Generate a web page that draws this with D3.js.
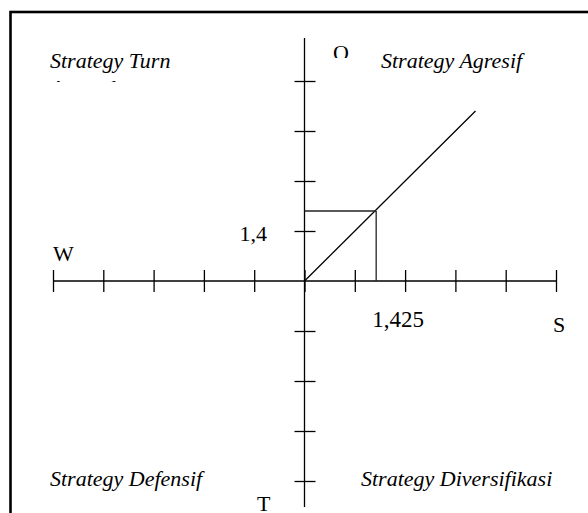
<!DOCTYPE html>
<html>
<head>
<meta charset="utf-8">
<script src="https://cdn.jsdelivr.net/npm/d3@7"></script>
<style>
  body { margin: 0; background: #fff; }
  svg { display: block; }
</style>
</head>
<body>
<div id="chart-area"></div>
<script>
// Data
var xTicks = [-5, -4, -3, -2, -1, 0, 1, 2, 3, 4, 5];
var yTicks = [-4, -3, -2, -1, 1, 2, 3, 4];
var point = {x: 1.425, y: 1.4};
var pointLabels = ["1,425", "1,4"];
var diagonalEnd = 3.4;
var axisNames = ["S", "W", "O", "T"];
var quadrants = ["Strategy Turn", "Strategy Agresif", "Strategy Defensif", "Strategy Diversifikasi"];
var quadrantSecondLine = "Around";

var width = 588;
var height = 513;

var svg = d3.select("#chart-area")
    .append("svg")
    .attr("width", width)
    .attr("height", height);

// Frame (top and left edges visible)
svg.append("rect")
    .attr("x", 10.5)
    .attr("y", 12)
    .attr("width", 700)
    .attr("height", 700)
    .attr("fill", "none")
    .attr("stroke", "#000")
    .attr("stroke-width", 2.6);

// Scales
var x = d3.scaleLinear().domain([-5, 5]).range([53, 556]);
var y = d3.scaleLinear().domain([-4, 4]).range([481, 81]);

var serif = "'Liberation Serif', 'Times New Roman', serif";

// Axis lines
svg.append("line")
    .attr("x1", x(-5)).attr("x2", x(5))
    .attr("y1", y(0)).attr("y2", y(0))
    .attr("stroke", "#000").attr("stroke-width", 1.3);

svg.append("line")
    .attr("x1", x(0)).attr("x2", x(0))
    .attr("y1", y(4.86)).attr("y2", y(-4.52))
    .attr("stroke", "#000").attr("stroke-width", 1.3);

// Tick marks crossing the axes
var bottomAxis = d3.axisBottom(x).tickValues(xTicks).tickSize(22).tickFormat("");
svg.append("g")
    .attr("class", "x axis")
    .attr("transform", "translate(0, " + (y(0) - 11) + ")")
    .call(bottomAxis)
    .call(g => g.select(".domain").remove())
    .selectAll("line")
    .attr("stroke", "#000")
    .attr("stroke-width", 1.3);

var rightAxis = d3.axisRight(y).tickValues(yTicks).tickSize(21).tickFormat("");
svg.append("g")
    .attr("class", "y axis")
    .attr("transform", "translate(" + (x(0) - 10) + ", 0)")
    .call(rightAxis)
    .call(g => g.select(".domain").remove())
    .selectAll("line")
    .attr("stroke", "#000")
    .attr("stroke-width", 1.3);

// Diagonal line
svg.append("line")
    .attr("x1", x(0)).attr("y1", y(0))
    .attr("x2", x(diagonalEnd)).attr("y2", y(diagonalEnd))
    .attr("stroke", "#000").attr("stroke-width", 1.3);

// Guide lines to the point
svg.append("line")
    .attr("x1", x(0)).attr("y1", y(point.y))
    .attr("x2", x(point.x)).attr("y2", y(point.y))
    .attr("stroke", "#222").attr("stroke-width", 1.3);
svg.append("line")
    .attr("x1", x(point.x)).attr("y1", y(point.y))
    .attr("x2", x(point.x)).attr("y2", y(0))
    .attr("stroke", "#222").attr("stroke-width", 1.3);

// Value labels
svg.append("text")
    .attr("x", x(point.x) - 4)
    .attr("y", y(0) + 46)
    .attr("font-family", serif)
    .attr("font-size", "23px")
    .text(pointLabels[0]);
svg.append("text")
    .attr("x", x(0) - 65)
    .attr("y", y(point.y) + 30)
    .attr("font-family", serif)
    .attr("font-size", "22px")
    .text(pointLabels[1]);

// Axis names
svg.append("defs").append("clipPath")
    .attr("id", "clip-o")
    .append("rect")
    .attr("x", 0).attr("y", 0).attr("width", width).attr("height", 58);

var names = [
    {t: axisNames[0], x: 553, y: 332},
    {t: axisNames[1], x: 53, y: 261},
    {t: axisNames[2], x: 333, y: 60, clip: true},
    {t: axisNames[3], x: 257, y: 511}
];
svg.selectAll(".axis-name")
    .data(names)
    .enter()
    .append("text")
    .attr("class", "axis-name")
    .attr("x", d => d.x)
    .attr("y", d => d.y)
    .attr("clip-path", d => d.clip ? "url(#clip-o)" : null)
    .attr("font-family", serif)
    .attr("font-size", "22px")
    .text(d => d.t);

// Quadrant labels
var quads = [
    {t: quadrants[0], x: 50, y: 68},
    {t: quadrants[1], x: 381, y: 68},
    {t: quadrants[2], x: 50, y: 486},
    {t: quadrants[3], x: 361, y: 486}
];
svg.selectAll(".quad")
    .data(quads)
    .enter()
    .append("text")
    .attr("class", "quad")
    .attr("x", d => d.x)
    .attr("y", d => d.y)
    .attr("font-family", serif)
    .attr("font-style", "italic")
    .attr("font-size", "22px")
    .text(d => d.t);

// Second line of the first label, cut off in the original
svg.select("defs").append("clipPath")
    .attr("id", "clip-around")
    .append("rect")
    .attr("x", 0).attr("y", 0).attr("width", width).attr("height", 82);

svg.append("text")
    .attr("x", 50)
    .attr("y", 95)
    .attr("clip-path", "url(#clip-around)")
    .attr("font-family", serif)
    .attr("font-style", "italic")
    .attr("font-size", "22px")
    .text(quadrantSecondLine);
</script>
</body>
</html>
